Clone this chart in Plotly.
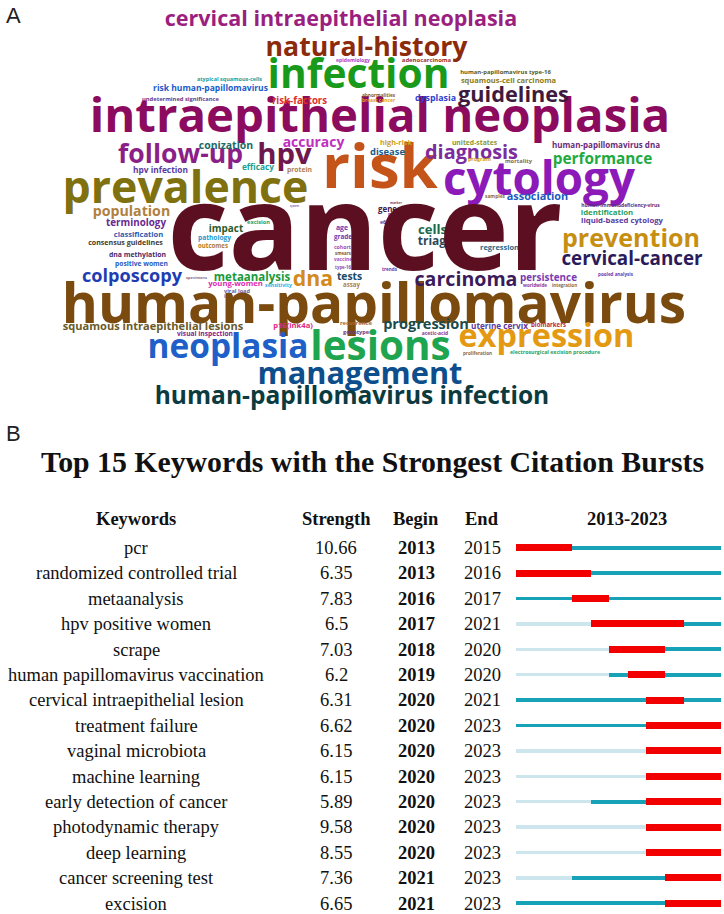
import plotly.graph_objects as go

# ---------------- Panel B data ----------------
keywords = ["pcr", "randomized controlled trial", "metaanalysis", "hpv positive women", "scrape",
            "human papillomavirus vaccination", "cervical intraepithelial lesion", "treatment failure",
            "vaginal microbiota", "machine learning", "early detection of cancer", "photodynamic therapy",
            "deep learning", "cancer screening test", "excision"]
strength = [10.66, 6.35, 7.83, 6.5, 7.03, 6.2, 6.31, 6.62, 6.15, 6.15, 5.89, 9.58, 8.55, 7.36, 6.65]
begin = [2013, 2013, 2016, 2017, 2018, 2019, 2020, 2020, 2020, 2020, 2020, 2020, 2020, 2021, 2021]
end = [2015, 2016, 2017, 2021, 2020, 2020, 2021, 2023, 2023, 2023, 2023, 2023, 2023, 2023, 2023]
first_year = [2013, 2013, 2013, 2017, 2018, 2018, 2013, 2013, 2020, 2020, 2017, 2020, 2020, 2016, 2013]
year_start, year_end = 2013, 2023

# ---------------- Panel A data (word cloud) ----------------
cloud_words = [
    "cervical intraepithelial neoplasia", "natural-history", "infection", "intraepithelial neoplasia",
    "guidelines", "dysplasia", "risk-factors", "risk human-papillomavirus", "atypical squamous-cells",
    "undetermined significance", "epidemiology", "abnormalities", "breast cancer", "adenocarcinoma",
    "human-papillomavirus type-16", "squamous-cell carcinoma", "follow-up", "hpv", "conization",
    "accuracy", "hpv infection", "efficacy", "protein", "prevalence", "risk", "population",
    "terminology", "classification", "consensus guidelines", "dna methylation", "positive women",
    "impact", "excision", "pathology", "outcomes", "system", "age", "grade", "cohort", "smears",
    "vaccine", "type-16", "disease", "high-risk", "united-states", "diagnosis",
    "human-papillomavirus dna", "program", "mortality", "performance", "cytology", "samples",
    "association", "human-immunodeficiency-virus", "identification", "liquid-based cytology",
    "marker", "gene", "pcr", "e6", "cells", "triage", "regression", "prevention", "cervical-cancer",
    "cancer", "colposcopy", "specimens", "metaanalysis", "young-women", "sensitivity", "dna", "tests",
    "assay", "viral load", "infections", "human-papillomavirus", "squamous intraepithelial lesions",
    "p16(ink4a)", "recurrence", "genotypes", "visual inspection", "neoplasia", "lesions", "management",
    "human-papillomavirus infection", "trends", "carcinoma", "persistence", "pooled analysis",
    "worldwide", "integration", "progression", "uterine cervix", "biomarkers", "acetic-acid",
    "expression", "proliferation", "electrosurgical excision procedure",
]

# layout of the cloud: word -> (left px, right px, centre y px, colour)
cloud_layout = {
    "cervical intraepithelial neoplasia": (166, 516, 18, "#9B1F7F"),
    "natural-history": (266, 467, 46, "#8B2B0B"),
    "infection": (268, 449, 73, "#1A9A1A"),
    "intraepithelial neoplasia": (92, 668, 114, "#8C0B5F"),
    "guidelines": (458, 569, 94, "#3E1B3E"),
    "dysplasia": (415, 456, 98, "#2B3FD0"),
    "risk-factors": (272, 327, 100, "#E0302A"),
    "risk human-papillomavirus": (153, 268, 88, "#1A5AC8"),
    "atypical squamous-cells": (197, 262, 79, "#1AA0A0"),
    "undetermined significance": (142, 219, 99, "#6A3A8A"),
    "epidemiology": (336, 370, 60, "#B040C0"),
    "abnormalities": (362, 395, 95, "#8A5A2A"),
    "breast cancer": (362, 395, 100, "#E0A020"),
    "adenocarcinoma": (402, 451, 60, "#A0302A"),
    "human-papillomavirus type-16": (460, 551, 72, "#5A5A1A"),
    "squamous-cell carcinoma": (461, 556, 80, "#8A7A1A"),
    "follow-up": (118, 243, 153, "#8B1F88"),
    "hpv": (257, 312, 153, "#6E184E"),
    "conization": (199, 253, 145, "#1A6A6A"),
    "accuracy": (283, 344, 143, "#C030C0"),
    "hpv infection": (133, 188, 170, "#5A3AA0"),
    "efficacy": (242, 274, 167, "#1AA090"),
    "protein": (287, 312, 169, "#B08050"),
    "prevalence": (63, 308, 186, "#7F7010"),
    "risk": (322, 438, 165, "#C4541A"),
    "population": (93, 170, 211, "#B0803F"),
    "terminology": (106, 166, 222, "#6A2A90"),
    "classification": (114, 163, 234, "#2A5AB0"),
    "consensus guidelines": (88, 163, 242, "#4A3A2A"),
    "dna methylation": (109, 166, 254, "#4A2A6A"),
    "positive women": (115, 168, 263, "#2A5AC0"),
    "impact": (209, 243, 228, "#2A5A2A"),
    "excision": (247, 270, 222, "#2AA06A"),
    "pathology": (198, 231, 237, "#1A9AD0"),
    "outcomes": (198, 228, 246, "#B07A2A"),
    "system": (290, 299, 206, "#8A6AB0"),
    "age": (336, 348, 228, "#6A3AB0"),
    "grade": (334, 352, 237, "#6A3AB0"),
    "cohort": (334, 351, 247, "#A050B0"),
    "smears": (335, 351, 254, "#8A5A2A"),
    "vaccine": (334, 352, 260, "#A050C0"),
    "type-16": (335, 351, 267, "#8A4AB0"),
    "disease": (370, 405, 151, "#1A5A8A"),
    "high-risk": (380, 412, 142, "#D0A020"),
    "united-states": (452, 497, 142, "#8A9A3A"),
    "diagnosis": (425, 518, 151, "#7C2C9C"),
    "human-papillomavirus dna": (552, 660, 145, "#6A2A7A"),
    "program": (468, 491, 160, "#D0A020"),
    "mortality": (505, 532, 161, "#8A6A4A"),
    "performance": (553, 652, 158, "#1FAA3F"),
    "cytology": (443, 635, 178, "#8B1AB8"),
    "samples": (485, 505, 196, "#8A6A4A"),
    "association": (507, 568, 196, "#1A5AC0"),
    "human-immunodeficiency-virus": (581, 660, 205, "#5A2A7A"),
    "identification": (581, 633, 212, "#2AA060"),
    "liquid-based cytology": (581, 663, 220, "#5A3AA0"),
    "marker": (390, 402, 203, "#8A3A5A"),
    "gene": (378, 397, 210, "#3A1A4A"),
    "pcr": (388, 395, 215, "#5A3AA0"),
    "e6": (380, 386, 222, "#5A3AA0"),
    "cells": (418, 447, 229, "#1A6A4A"),
    "triage": (418, 453, 240, "#2A4A5A"),
    "regression": (480, 519, 248, "#1A6A8A"),
    "prevention": (562, 700, 237, "#C68F12"),
    "cervical-cancer": (562, 702, 258, "#2B1B5B"),
    "cancer": (170, 560, 238, "#5C0F20"),
    "colposcopy": (82, 182, 275, "#1F3DB3"),
    "specimens": (186, 207, 278, "#8A6A8A"),
    "metaanalysis": (214, 290, 277, "#1A9A3A"),
    "young-women": (208, 263, 284, "#E02AB0"),
    "sensitivity": (265, 292, 285, "#3AAAE0"),
    "dna": (293, 333, 278, "#D48A1A"),
    "tests": (337, 362, 276, "#1A4A6A"),
    "assay": (343, 360, 285, "#B08050"),
    "viral load": (224, 250, 291, "#6A5AA0"),
    "infections": (224, 249, 296, "#6A7AB0"),
    "human-papillomavirus": (62, 686, 302, "#7B4A0E"),
    "squamous intraepithelial lesions": (63, 243, 326, "#6A5A2A"),
    "p16(ink4a)": (273, 313, 325, "#E02A80"),
    "recurrence": (340, 372, 323, "#A06A4A"),
    "genotypes": (343, 372, 332, "#6A3A8A"),
    "visual inspection": (177, 233, 333, "#8A1A8A"),
    "neoplasia": (148, 308, 345, "#1F5FC8"),
    "lesions": (310, 451, 345, "#1FA54F"),
    "management": (258, 462, 372, "#0D4E8C"),
    "human-papillomavirus infection": (155, 549, 395, "#0B3B3F"),
    "trends": (382, 397, 269, "#5A3AB0"),
    "carcinoma": (415, 517, 281, "#3B1B5B"),
    "persistence": (520, 577, 277, "#7A3AB0"),
    "pooled analysis": (598, 633, 274, "#6A3AB0"),
    "worldwide": (523, 547, 285, "#8A3AA0"),
    "integration": (552, 577, 285, "#8A6A4A"),
    "progression": (383, 469, 325, "#1A4A4A"),
    "uterine cervix": (471, 528, 326, "#5A3AA0"),
    "biomarkers": (531, 566, 325, "#C02A3A"),
    "acetic-acid": (422, 448, 333, "#8A3A8A"),
    "expression": (458, 635, 338, "#E39A12"),
    "proliferation": (463, 492, 353, "#8A6A4A"),
    "electrosurgical excision procedure": (510, 600, 352, "#2AA060"),
}

W, H = 724, 914
CLOUD_FONT = "Open Sans"
# approximate advance widths (em) of Open Sans Bold
CW = dict(a=.573, b=.615, c=.49, d=.615, e=.575, f=.379, g=.552, h=.643, i=.296, j=.296, k=.603,
          l=.296, m=.964, n=.643, o=.604, p=.615, q=.615, r=.439, s=.494, t=.407, u=.643, v=.569,
          w=.83, x=.586, y=.569, z=.476)
CW.update({" ": .26, "-": .322, "(": .339, ")": .339})
for dgt in "0123456789":
    CW[dgt] = .572


def em_width(s):
    return sum(CW.get(ch, .55) for ch in s)


ASC = set("bdfhklt0123456789()")
cx, cy, cs, cc = [], [], [], []
for wd in cloud_words:
    x0, x1, yc, col = cloud_layout[wd]
    size = (x1 - x0) / em_width(wd) * 0.975
    cx.append((x0 + x1) / 2)
    # plotly puts the baseline 0.25*size below the anchor point
    if any(ch in ASC for ch in wd):
        cy.append(yc + 0.13 * size)
    else:
        cy.append(yc + 0.02 * size)
    cs.append(size)
    cc.append(col)

fig = go.Figure()

fig.add_trace(go.Scatter(
    x=cx, y=cy, text=cloud_words, mode="text", textposition="middle center",
    textfont=dict(family=CLOUD_FONT, size=cs, color=cc, weight="bold"),
    xaxis="x2", yaxis="y2", hoverinfo="skip", showlegend=False, cliponaxis=False,
))

# ---------------- burst bars ----------------
n = len(keywords)
light_base = [year_start] * n
light_len = [f - year_start for f in first_year]
dark_base = first_year
dark_len = [year_end + 1 - f for f in first_year]
red_base = begin
red_len = [e + 1 - b for b, e in zip(begin, end)]

fig.add_trace(go.Bar(y=keywords, x=light_len, base=light_base, orientation="h", width=0.14,
                     marker=dict(color="#CDE6EE", line=dict(width=0)), hoverinfo="skip",
                     showlegend=False))
fig.add_trace(go.Bar(y=keywords, x=dark_len, base=dark_base, orientation="h", width=0.15,
                     marker=dict(color="#17A2B8", line=dict(width=0)), hoverinfo="skip",
                     showlegend=False))
fig.add_trace(go.Bar(y=keywords, x=red_len, base=red_base, orientation="h", width=0.28,
                     marker=dict(color="#F20000", line=dict(width=0)), hoverinfo="skip",
                     showlegend=False))

ROW0, ROWH = 548.0, 25.4
y_lo, y_hi = -0.5, 14.3
dom_top = 1 - (ROW0 + y_lo * ROWH) / H
dom_bot = 1 - (ROW0 + y_hi * ROWH) / H

annotations = []
SERIF = "Liberation Serif"
FS = 18.5
col_x = {"kw": 136, "st": 336, "be": 416, "en": 482, "yr": 627}
for i, kw in enumerate(keywords):
    cells = [("kw", kw), ("st", f"{strength[i]:g}"), ("be", f"<b>{begin[i]}</b>"), ("en", str(end[i]))]
    for k, t in cells:
        annotations.append(dict(x=col_x[k] / W, y=kw, xref="paper", yref="y", text=t, showarrow=False,
                                xanchor="center", yanchor="middle",
                                font=dict(family=SERIF, size=FS, color="#111")))

headers = [("kw", "Keywords"), ("st", "Strength"), ("be", "Begin"), ("en", "End"),
           ("yr", f"{year_start}-{year_end}")]
for k, t in headers:
    annotations.append(dict(x=col_x[k] / W, y=1 - 519 / H, xref="paper", yref="paper", text=f"<b>{t}</b>",
                            showarrow=False, xanchor="center", yanchor="middle",
                            font=dict(family=SERIF, size=FS, color="#111")))

annotations.append(dict(x=372 / W, y=1 - 461 / H, xref="paper", yref="paper",
                        text="<b>Top 15 Keywords with the Strongest Citation Bursts</b>", showarrow=False,
                        xanchor="center", yanchor="middle", font=dict(family=SERIF, size=29.8, color="#111")))
annotations.append(dict(x=4 / W, y=1 - 16 / H, xref="paper", yref="paper", text="A", showarrow=False,
                        xanchor="left", yanchor="middle", font=dict(family="Liberation Sans", size=22, color="#222")))
annotations.append(dict(x=4 / W, y=1 - 434 / H, xref="paper", yref="paper", text="B", showarrow=False,
                        xanchor="left", yanchor="middle", font=dict(family="Liberation Sans", size=22, color="#222")))

fig.update_layout(
    width=W, height=H, margin=dict(l=0, r=0, t=0, b=0),
    paper_bgcolor="white", plot_bgcolor="rgba(0,0,0,0)",
    barmode="overlay", bargap=0,
    xaxis=dict(domain=[516 / W, 721 / W], range=[year_start, year_end + 1], visible=False, fixedrange=True),
    yaxis=dict(domain=[dom_bot, dom_top], range=[y_hi, y_lo], type="category",
               categoryorder="array", categoryarray=keywords, visible=False, fixedrange=True),
    xaxis2=dict(domain=[0, 1], range=[0, W], visible=False, anchor="y2", fixedrange=True),
    yaxis2=dict(domain=[0, 1], range=[H, 0], visible=False, anchor="x2", fixedrange=True),
    annotations=annotations,
    showlegend=False,
)

fig.write_html("out.html", config={"displayModeBar": False},
               post_script="document.body.style.margin='0';document.body.style.overflow='hidden';")
